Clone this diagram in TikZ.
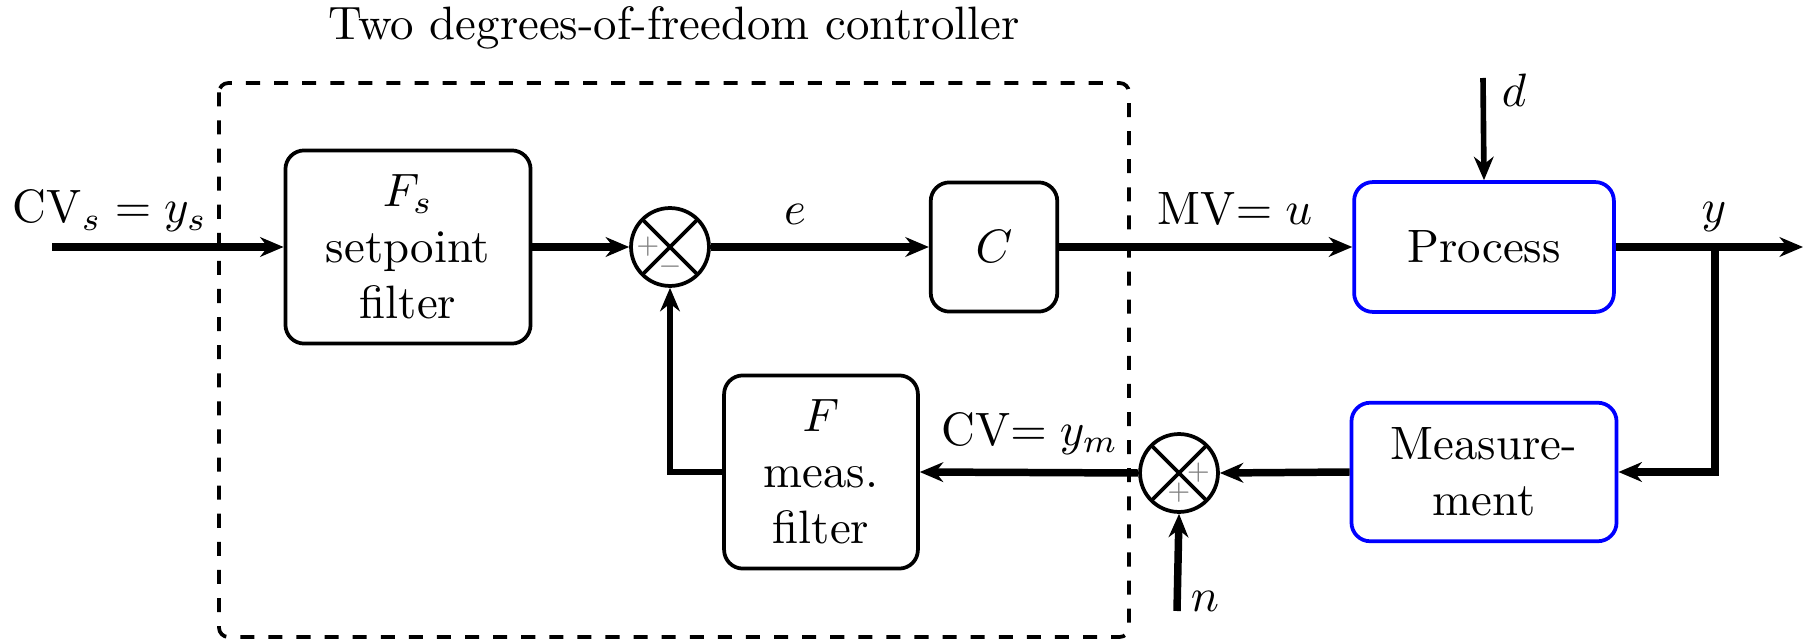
\documentclass[tikz,border=0pt]{standalone}
\usetikzlibrary{arrows.meta,calc}
\begin{document}
\begin{tikzpicture}[x=0.0075cm,y=-0.0075cm,
  blk/.style={draw, thick, rounded corners=4pt, align=center, inner sep=0pt},
  pblk/.style={blk, draw=blue},
  sumnode/.style={circle, draw, thick, minimum size=0.585cm, inner sep=0pt,
    path picture={\draw[thick] (path picture bounding box.north west) -- (path picture bounding box.south east)
      (path picture bounding box.north east) -- (path picture bounding box.south west);}},
  sig/.style={-{Stealth[length=5pt,width=4.2pt]}, ultra thick},
  fbsig/.style={-{Stealth[length=5pt,width=4.2pt]}, very thick},
  sign/.style={text=gray, font=\tiny, inner sep=0pt},
  lbl/.style={anchor=base, inner sep=0pt},
  ctrlbox/.style={draw, thick, dashed, rounded corners=2pt}]
\useasboundingbox (0,0) rectangle (1807,641);

% dashed controller frame
\draw[ctrlbox] (219,83) rectangle (1129,637);
\node[lbl] (title) at (674,40) {Two degrees-of-freedom controller};

% blocks
\node[blk, minimum width=1.84cm, minimum height=1.45cm] (Fs) at (408,247) {$F_s$\\setpoint\\filter};
\node[sumnode] (s1) at (670,247) {};
\node[blk, minimum width=0.95cm, minimum height=0.97cm] (C) at (994,247) {$C$};
\node[pblk, minimum width=1.95cm, minimum height=0.975cm] (P) at (1484,247) {Process};
\node[pblk, minimum width=1.99cm, minimum height=1.04cm] (M) at (1484,472) {Measure-\\ment};
\node[sumnode] (s2) at (1179,473) {};
\node[blk, minimum width=1.455cm, minimum height=1.45cm] (F) at (821,472) {$F$\\meas.\\filter};

% signs
\node[sign] (s1p) at ($(s1.center)+(-0.165cm,0)$) {$+$};
\node[sign] (s1m) at ($(s1.center)+(0,-0.15cm)$) {$-$};
\node[sign] (s2p1) at ($(s2.center)+(0.145cm,0)$) {$+$};
\node[sign] (s2p2) at ($(s2.center)+(0,-0.15cm)$) {$+$};

% coordinates
\coordinate (in) at (52,247);
\coordinate (out) at (1803,247);
\coordinate (jn) at (1715,247);
\coordinate (din) at (1483,78);
\coordinate (nin) at (1177,611);

% connectors
\draw[sig] (in) -- (Fs.west);
\draw[sig] (Fs.east) -- (s1.west);
\draw[sig] (s1.east) -- (C.west);
\draw[sig] (C.east) -- (P.west);
\draw[sig] (P.east) -- (out);
\draw[sig] (jn) |- (M.east);
\draw[sig] (M.west) -- (s2.east);
\draw[sig] (s2.west) -- (F.east);
\draw[fbsig] (F.west) -| (s1.south);
\draw[fbsig] (din) -- (P.north);
\draw[sig] (nin) -- (s2.south);

% labels
\node[lbl] (lin) at (110,223) {CV$_s = y_s$};
\node[lbl] (le) at (795,225) {$e$};
\node[lbl] (lu) at (1235,225) {MV$= u$};
\node[lbl] (ly) at (1714,223) {$y$};
\node[lbl] (lym) at (1030,445) {CV$= y_m$};
\node[lbl] (ld) at (1514,107) {$d$};
\node[lbl] (ln) at (1205,611) {$n$};
\end{tikzpicture}
\end{document}
